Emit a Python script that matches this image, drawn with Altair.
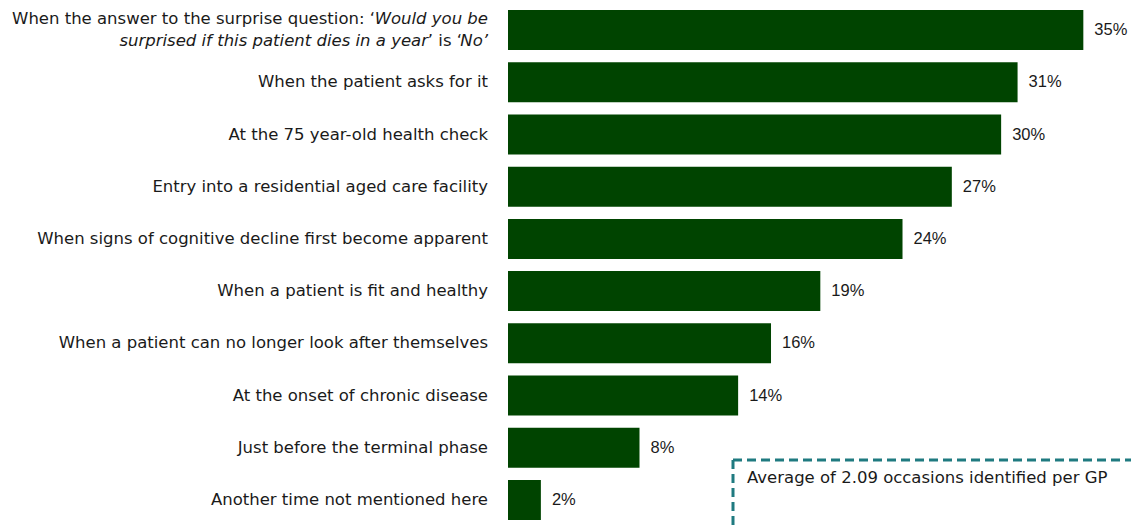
import altair as alt
import pandas as pd

first_label = "When the answer to the surprise question: 'Would you be surprised if this patient dies in a year' is 'No'"
categories = [
    first_label,
    "When the patient asks for it",
    "At the 75 year-old health check",
    "Entry into a residential aged care facility",
    "When signs of cognitive decline first become apparent",
    "When a patient is fit and healthy",
    "When a patient can no longer look after themselves",
    "At the onset of chronic disease",
    "Just before the terminal phase",
    "Another time not mentioned here",
]
values = [35, 31, 30, 27, 24, 19, 16, 14, 8, 2]
value_labels = [f"{v}%" for v in values]
axis_labels = [""] + categories[1:]

df = pd.DataFrame({
    "category": categories,
    "value": values,
    "label": value_labels,
    "axis_label": axis_labels,
})

LABEL_FONT = "DejaVu Sans"
LABEL_SIZE = 16.5
TXT = "#1a1a1a"

ysc = alt.Scale(paddingInner=0.234, paddingOuter=0.117)
yenc = alt.Y("category:N", sort=categories, axis=None, scale=ysc)
xsc = alt.Scale(domain=[0, 37.9], nice=False)

base = alt.Chart(df).encode(y=yenc)

bars = base.mark_bar(color="#004400").encode(
    x=alt.X("value:Q", scale=xsc, axis=None)
)
pct = base.mark_text(align="left", baseline="middle", dx=11, font="Liberation Sans",
                     fontSize=16.5, color=TXT).encode(
    x=alt.X("value:Q", scale=xsc), text="label:N"
)
names = base.mark_text(align="right", baseline="middle", font=LABEL_FONT,
                       fontSize=LABEL_SIZE, color=TXT).encode(
    x=alt.value(-20), text="axis_label:N"
)

# first, two-line label with mixed styles
seg_df = pd.DataFrame({"category": [first_label]})
seg_base = alt.Chart(seg_df).encode(y=alt.Y("category:N", sort=categories, scale=ysc, axis=None))
segments = [
    ("Would you be", "italic", 0, -11),
    ("When the answer to the surprise question: \u2018", "normal", -113, -11),
    ("No\u2019", "italic", 0, 11),
    ("\u2019 is \u2018", "normal", -26, 11),
    ("surprised if this patient dies in a year", "italic", -60, 11),
]
seg_layers = [
    seg_base.mark_text(align="right", baseline="middle", font=LABEL_FONT, fontSize=LABEL_SIZE,
                       color=TXT, fontStyle=style, dx=dx, dy=dy, text=t).encode(x=alt.value(-20))
    for t, style, dx, dy in segments
]

note_df = pd.DataFrame({"note": ["Average of 2.09 occasions identified per GP"]})
box_top = alt.Chart(note_df).mark_rule(color="#1F7A80", strokeWidth=3, strokeDash=[9, 5]).encode(
    x=alt.value(225), x2=alt.value(640), y=alt.value(456)
)
box_left = alt.Chart(note_df).mark_rule(color="#1F7A80", strokeWidth=3, strokeDash=[9, 5]).encode(
    x=alt.value(225), y=alt.value(456), y2=alt.value(530)
)
note = alt.Chart(note_df).mark_text(align="left", baseline="middle", font=LABEL_FONT,
                                    fontSize=LABEL_SIZE, color=TXT).encode(
    x=alt.value(239), y=alt.value(474), text="note:N"
)

chart = alt.layer(bars, pct, names, *seg_layers, box_top, box_left, note).properties(
    width=623, height=522,
    padding={"left": 508, "top": 4, "right": 0, "bottom": 0},
    autosize=alt.AutoSizeParams(type="none"),
    background="white",
).configure_view(stroke=None)

chart.save("out.html", embed_options={"renderer": "svg", "actions": False})
